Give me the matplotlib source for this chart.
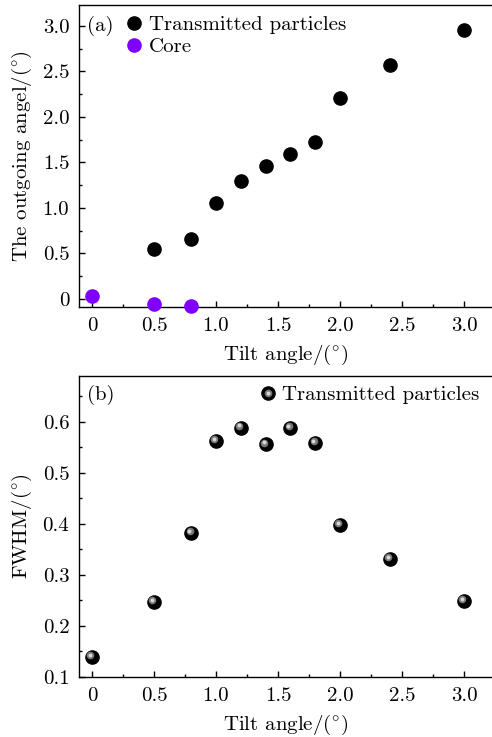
import matplotlib
matplotlib.use("Agg")
import matplotlib.pyplot as plt
import matplotlib.transforms as mtransforms
from matplotlib.ticker import MultipleLocator, FuncFormatter
from matplotlib.lines import Line2D

plt.rcParams['font.family'] = ['cmr10']
plt.rcParams['mathtext.fontset'] = 'cm'
plt.rcParams['axes.formatter.use_mathtext'] = True
plt.rcParams['font.size'] = 15

# panel (a)
tilt_a = [0.5, 0.8, 1.0, 1.2, 1.4, 1.6, 1.8, 2.0, 2.4, 3.0]
outgoing = [0.55, 0.66, 1.05, 1.30, 1.46, 1.59, 1.72, 2.21, 2.57, 2.95]
tilt_core = [0.0, 0.5, 0.8]
core = [0.026, -0.055, -0.08]

# panel (b)
tilt_b = [0.0, 0.5, 0.8, 1.0, 1.2, 1.4, 1.6, 1.8, 2.0, 2.4, 3.0]
fwhm = [0.14, 0.247, 0.382, 0.563, 0.589, 0.556, 0.588, 0.559, 0.398, 0.331, 0.249]


def fmt(v, pos):
    if abs(v) < 1e-9:
        return "0"
    return "%.1f" % v


fig = plt.figure(figsize=(4.92, 7.37), dpi=100)
ax1 = fig.add_axes([79 / 492, 1 - 307 / 737, 1 - 79 / 492, 302 / 737])
ax2 = fig.add_axes([79 / 492, 1 - 677 / 737, 1 - 79 / 492, 301 / 737])

purple = '#8000ff'
deg = r'$({}^{\circ})$'

ax1.plot(tilt_a, outgoing, 'o', color='black', ms=9.5, clip_on=False, zorder=3,
         label='Transmitted particles')
ax1.plot(tilt_core, core, 'o', color=purple, ms=9.5, clip_on=False, zorder=3,
         label='Core')
ax1.set_xlim(-0.105, 3.226)
ax1.set_ylim(-0.09, 3.23)
ax1.yaxis.set_major_locator(MultipleLocator(0.5))
ax1.yaxis.set_minor_locator(MultipleLocator(0.25))
ax1.set_ylabel('The outgoing angel/' + deg, labelpad=6)
ax1.text(0.02, 0.965, '(a)', transform=ax1.transAxes, ha='left', va='top')
ax1.legend(loc='upper left', bbox_to_anchor=(0.078, 1.007), frameon=False,
           handletextpad=0.2, borderaxespad=0.2, labelspacing=0.17,
           handlelength=1.0)

# shaded sphere markers
ax2.plot(tilt_b, fwhm, 'o', color='black', ms=9.5, clip_on=False, zorder=3)
hl1 = mtransforms.offset_copy(ax2.transData, fig=fig, x=-1.2, y=1.2, units='points')
hl2 = mtransforms.offset_copy(ax2.transData, fig=fig, x=-1.5, y=1.5, units='points')
ax2.plot(tilt_b, fwhm, 'o', color='#777777', ms=5.5, mew=0, transform=hl1,
         clip_on=False, zorder=4)
ax2.plot(tilt_b, fwhm, 'o', color='#d8d8d8', ms=2.8, mew=0, transform=hl2,
         clip_on=False, zorder=5)
h_black = Line2D([], [], marker='o', ls='', color='black', ms=9.5)
h_mid = Line2D([], [], marker='o', ls='', color='#777777', ms=5.5, mew=0)
h_hl = Line2D([], [], marker='o', ls='', color='#d8d8d8', ms=2.8, mew=0)
ax2.legend([(h_black, h_mid, h_hl)], ['Transmitted particles'], loc='upper right',
           bbox_to_anchor=(1.0, 1.01), frameon=False, handletextpad=0.2,
           borderaxespad=0.2, handlelength=1.0)
ax2.set_xlim(-0.105, 3.226)
ax2.set_ylim(0.1, 0.69)
ax2.yaxis.set_major_locator(MultipleLocator(0.1))
ax2.yaxis.set_minor_locator(MultipleLocator(0.05))
ax2.set_ylabel('FWHM/' + deg, labelpad=6)
ax2.text(0.02, 0.97, '(b)', transform=ax2.transAxes, ha='left', va='top')

for ax in (ax1, ax2):
    ax.xaxis.set_major_locator(MultipleLocator(0.5))
    ax.xaxis.set_minor_locator(MultipleLocator(0.25))
    ax.xaxis.set_major_formatter(FuncFormatter(fmt))
    ax.yaxis.set_major_formatter(FuncFormatter(fmt))
    ax.set_xlabel(r'Tilt angle/' + deg, labelpad=6)
    ax.tick_params(which='both', direction='in', top=False, right=False,
                   width=1.0, labelsize=15)
    ax.tick_params(which='major', length=4, pad=7)
    ax.tick_params(which='minor', length=2.5)
    ax.spines['right'].set_visible(False)
    for s in ('left', 'bottom', 'top'):
        ax.spines[s].set_linewidth(1.0)

fig.savefig('out.png', dpi=100)
